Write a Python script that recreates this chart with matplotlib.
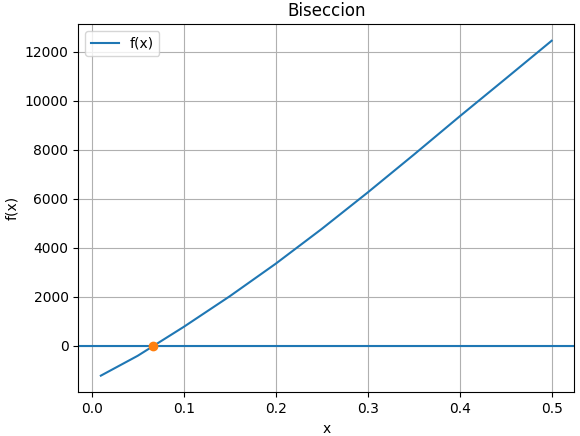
import matplotlib
matplotlib.use("Agg")
import matplotlib.pyplot as plt

x_vals = [0.01, 0.05, 0.1, 0.15, 0.2, 0.25, 0.3, 0.35, 0.4, 0.45, 0.5]
f_vals = [-1230, -420, 760, 2010, 3340, 4760, 6250, 7790, 9360, 10900, 12450]
root_x = [0.067]
root_y = [0]

fig, ax = plt.subplots(figsize=(5.8, 4.36), dpi=100)
ax.plot(x_vals, f_vals, label="f(x)")
ax.axhline(0)
ax.plot(root_x, root_y, "o")
ax.set_title("Biseccion")
ax.set_xlabel("x")
ax.set_ylabel("f(x)")
ax.grid(True)
ax.legend(loc="upper left")
fig.subplots_adjust(left=0.135, right=0.99, top=0.945, bottom=0.1)
fig.savefig("out.png")
